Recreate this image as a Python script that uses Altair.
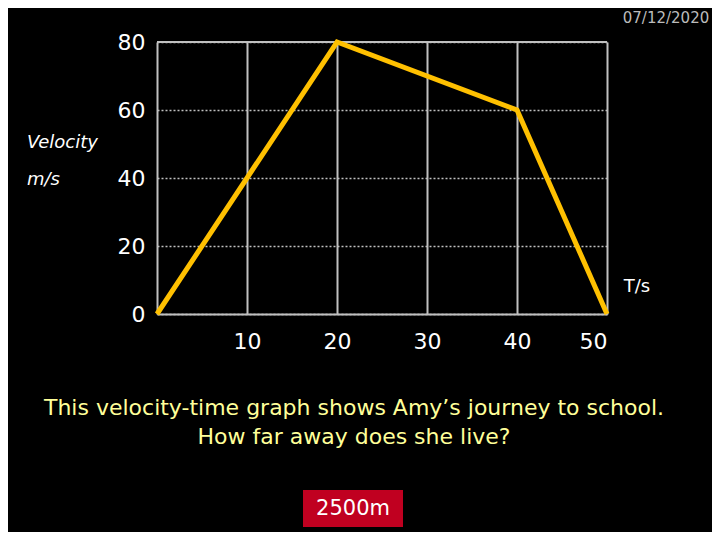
import altair as alt
import pandas as pd

# data
time_s = [0, 20, 40, 50]
velocity = [0, 80, 60, 0]
y_ticks = [0, 20, 40, 60, 80]
x_ticks = [10, 20, 30, 40, 50]
top_value = [80]

line_df = pd.DataFrame({"t": time_s, "v": velocity})
top_df = pd.DataFrame({"v": top_value})

FONT = "DejaVu Sans"
GRID = "#c0c0c0"
OX, OY = 157, 42  # plot origin on page


def txt(s, px, py, size, color="white", italic=False, align="center"):
    return alt.Chart(pd.DataFrame({"s": [s]})).mark_text(
        fontSize=size, color=color, font=FONT, align=align, baseline="middle",
        fontStyle="italic" if italic else "normal",
    ).encode(x=alt.value(px - OX), y=alt.value(py - OY), text="s:N")


xscale = alt.Scale(domain=[0, 50], nice=False, zero=True)
yscale = alt.Scale(domain=[0, 80], nice=False)

line = alt.Chart(line_df).mark_line(
    color="#FFC000", strokeWidth=5, strokeJoin="miter"
).encode(
    x=alt.X("t:Q", scale=xscale, axis=alt.Axis(
        values=x_ticks, title=None, ticks=False, labelFontSize=22, labelColor="white",
        labelFont=FONT, labelPadding=17, domainColor=GRID, domainWidth=2,
        grid=True, gridColor=GRID, gridWidth=2, gridOpacity=1)),
    y=alt.Y("v:Q", scale=yscale, axis=alt.Axis(
        values=y_ticks, title=None, ticks=False, labelFontSize=22, labelColor="white",
        labelFont=FONT, labelPadding=12, domainColor=GRID, domainWidth=2,
        grid=True, gridColor=GRID, gridWidth=1.5, gridDash=[2, 2], gridOpacity=1)),
)

top_rule = alt.Chart(top_df).mark_rule(color=GRID, strokeWidth=2).encode(
    y=alt.Y("v:Q", scale=yscale)
)

box = alt.Chart(pd.DataFrame({"a": [1]})).mark_rect(color="#C00020").encode(
    x=alt.value(303 - OX), x2=alt.value(403 - OX),
    y=alt.value(490 - OY), y2=alt.value(527 - OY),
)

chart = alt.layer(
    top_rule,
    line,
    txt("Velocity", 27, 143, 18, italic=True, align="left"),
    txt("m/s", 27, 180, 18, italic=True, align="left"),
    txt("T/s", 637, 287, 18),
    txt("07/12/2020", 666, 18, 15, color="#bbbbbb"),
    txt("This velocity-time graph shows Amy\u2019s journey to school.", 354, 408, 22, color="#FFFF99"),
    txt("How far away does she live?", 354, 437, 22, color="#FFFF99"),
    box,
    txt("2500m", 353, 509, 21),
).properties(
    width=450, height=272,
    background="black",
    autosize=alt.AutoSizeParams(type="none"),
    padding={"left": 149, "top": 34, "right": 105, "bottom": 218},
).configure_view(stroke=None)

chart.save("out.html", embed_options={"renderer": "svg", "actions": False})
